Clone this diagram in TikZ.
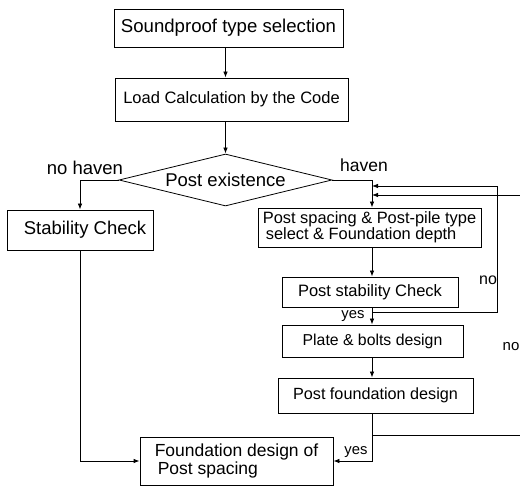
\documentclass[tikz,border=0pt]{standalone}
\usepackage{fontspec}
\setmainfont{Liberation Sans}
\usetikzlibrary{positioning,arrows.meta,shapes.geometric}

\newcommand{\fsz}[1]{\fontsize{#1}{#1}\selectfont}

\begin{document}
\begin{tikzpicture}[x=1pt,y=-1pt,
    box/.style={draw,line width=0.8pt,inner sep=2pt,font=\fsz{16}},
    flow/.style={line width=0.8pt},
    arr/.style={flow,-{Latex[length=6pt,width=4.5pt]}},
    lbl/.style={inner sep=0pt,anchor=base,font=\fsz{16}}]
  \useasboundingbox (0,0) rectangle (520,486);
  \clip (0,0) rectangle (520,486);

  % main column
  \node[box,minimum width=229pt,minimum height=38pt,font=\fsz{18.6}] (sel) at (228.5,28) {Soundproof type selection};
  \node[box,minimum width=233pt,minimum height=43pt,font=\fsz{16.5}] (load) at (231.5,99.5) {Load Calculation by the Code};
  \node[draw,diamond,line width=0.8pt,shape aspect=4,inner sep=0pt,
        minimum width=213pt,minimum height=52pt,font=\fsz{18.5}] (exist) at (225.5,180) {Post existence};

  % left branch
  \node[box,minimum width=146pt,minimum height=40pt,font=\fsz{18.5}] (stab) at (80,230) {\hspace*{10pt}Stability Check};

  % right branch
  \node[box,minimum width=223pt,minimum height=39pt,align=left,font=\fsz{16.4}] (spacing) at (369.5,227.5)
    {Post spacing \& Post-pile type\\\hspace{3pt}select \& Foundation depth};
  \node[box,minimum width=176pt,minimum height=30pt,font=\fsz{16.5}] (pchk) at (370,292) {Post stability Check};
  \node[box,minimum width=181pt,minimum height=32pt,font=\fsz{15.8}] (plate) at (372.5,341) {Plate \& bolts design};
  \node[box,minimum width=195pt,minimum height=35pt,font=\fsz{16.2}] (pfound) at (375.5,395.5) {Post foundation design};

  % bottom
  \node[box,minimum width=193pt,minimum height=48pt,align=left,font=\fsz{17.5}] (fspace) at (236.5,461)
    {Foundation design of\\\hspace{3pt}Post spacing};

  % junctions of the right-hand loops
  \coordinate (spine) at (372,180);
  \coordinate (ja) at (372,312);
  \coordinate (jb) at (372,435);
  \coordinate (loopa) at (497,186);
  \coordinate (loopb) at (532,195);

  \draw[arr] (sel.south -| exist.north) -- (load.north -| exist.north);
  \draw[arr] (load.south -| exist.north) -- (exist.north);
  \draw[arr] (exist.west) -| (stab.north);
  \draw[arr] (stab.south) |- (fspace.west);
  \draw[arr] (exist.east) -- (spine) -- (spacing.north -| spine);
  \draw[arr] (spacing.south -| spine) -- (pchk.north -| spine);
  \draw[arr] (pchk.south -| spine) -- (plate.north -| spine);
  \draw[arr] (plate.south -| spine) -- (pfound.north -| spine);
  \draw[arr] (pfound.south -| spine) |- (fspace.east);
  \draw[arr] (ja) -| (loopa) -- (loopa -| spine);
  \draw[arr] (jb) -| (loopb) -- (loopb -| spine);

  % branch labels
  \node[lbl,font=\fsz{18.5}] (nohaven) at (85,175) {no haven};
  \node[lbl,font=\fsz{17.5}] (haven) at (364,172) {haven};
  \node[lbl,font=\fsz{14.8}] (yesa) at (353,319) {yes};
  \node[lbl] (noa) at (488,285) {no};
  \node[lbl,anchor=base west,font=\fsz{15}] (nob) at (502.5,351) {no};
  \node[lbl,font=\fsz{14.8}] (yesb) at (356,455) {yes};
\end{tikzpicture}
\end{document}
